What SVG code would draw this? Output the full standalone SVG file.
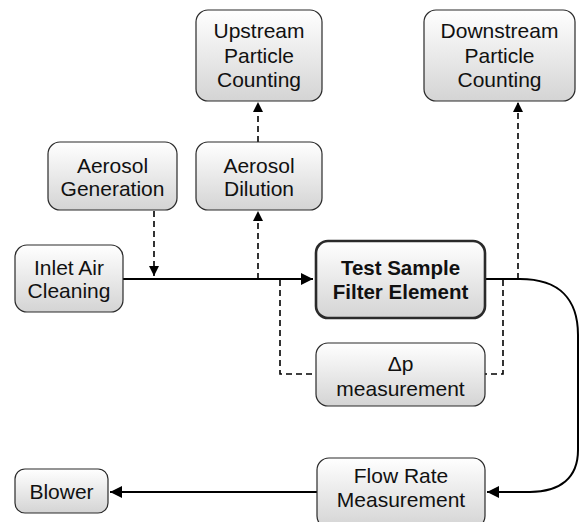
<svg xmlns="http://www.w3.org/2000/svg" width="581" height="522" viewBox="0 0 581 522">
<defs>
<linearGradient id="g" x1="0" y1="0" x2="0" y2="1">
<stop offset="0" stop-color="#ffffff"/>
<stop offset="1" stop-color="#d4d4d4"/>
</linearGradient>
<marker id="ah" markerUnits="userSpaceOnUse" markerWidth="14" markerHeight="12" refX="12" refY="6" orient="auto">
<path d="M0,0 L12,6 L0,12 Z" fill="#000"/>
</marker>
<marker id="ahs" markerUnits="userSpaceOnUse" markerWidth="12" markerHeight="10" refX="10" refY="5" orient="auto">
<path d="M0,0 L10,5 L0,10 Z" fill="#000"/>
</marker>
<style>
.box{fill:url(#g);stroke:#2a2a2a;stroke-width:1.2}
.bold{stroke-width:2.6}
text{font-family:"Liberation Sans",Arial,sans-serif;font-size:21px;fill:#111;text-anchor:middle}
.b{font-weight:bold;font-size:20.5px}
.flow{fill:none;stroke:#000;stroke-width:2}
.dash{fill:none;stroke:#000;stroke-width:1.6;stroke-dasharray:6,4}
</style>
</defs>
<g id="connectors">
<path class="flow" d="M123,279 H313" marker-end="url(#ah)"/>
<path class="flow" d="M485,279 H520 C560,279 578,300 578,335 V450 C578,478 560,492 530,492 H487" marker-end="url(#ah)"/>
<path class="flow" d="M317,492 H110" marker-end="url(#ah)"/>
<path class="dash" d="M154,211 V276" marker-end="url(#ahs)"/>
<path class="dash" d="M258,279 V211" marker-end="url(#ahs)"/>
<path class="dash" d="M258,142 V102" marker-end="url(#ahs)"/>
<path class="dash" d="M518,279 V102" marker-end="url(#ahs)"/>
<path class="dash" d="M280,280 V374 H316"/>
<path class="dash" d="M503,280 V374 H485"/>
</g>
<g id="upstream">
<rect class="box" x="196" y="10" width="126" height="91" rx="12"/>
<text x="259" y="38">Upstream</text>
<text x="259" y="62.5">Particle</text>
<text x="259" y="87">Counting</text>
</g>
<g id="downstream">
<rect class="box" x="424" y="10" width="151" height="91" rx="12"/>
<text x="499.5" y="38">Downstream</text>
<text x="499.5" y="62.5">Particle</text>
<text x="499.5" y="87">Counting</text>
</g>
<g id="aerosol-generation">
<rect class="box" x="48" y="142" width="129" height="68" rx="12"/>
<text x="112.5" y="173">Aerosol</text>
<text x="112.5" y="196">Generation</text>
</g>
<g id="aerosol-dilution">
<rect class="box" x="196" y="142" width="126" height="68" rx="12"/>
<text x="259" y="173">Aerosol</text>
<text x="259" y="196">Dilution</text>
</g>
<g id="inlet">
<rect class="box" x="15" y="245" width="108" height="67" rx="12"/>
<text x="69" y="275">Inlet Air</text>
<text x="69" y="298">Cleaning</text>
</g>
<g id="test-sample">
<rect class="box bold" x="316" y="241" width="169" height="77" rx="12"/>
<text class="b" x="400.5" y="275">Test Sample</text>
<text class="b" x="400.5" y="299">Filter Element</text>
</g>
<g id="dp">
<rect class="box" x="316" y="343" width="169" height="63" rx="12"/>
<text x="400.5" y="371">Δp</text>
<text x="400.5" y="395.5">measurement</text>
</g>
<g id="flow-rate">
<rect class="box" x="317" y="458" width="168" height="70" rx="12"/>
<text x="401" y="483">Flow Rate</text>
<text x="401" y="507">Measurement</text>
</g>
<g id="blower">
<rect class="box" x="15" y="469" width="93" height="44" rx="10"/>
<text x="61.5" y="499">Blower</text>
</g>
</svg>
